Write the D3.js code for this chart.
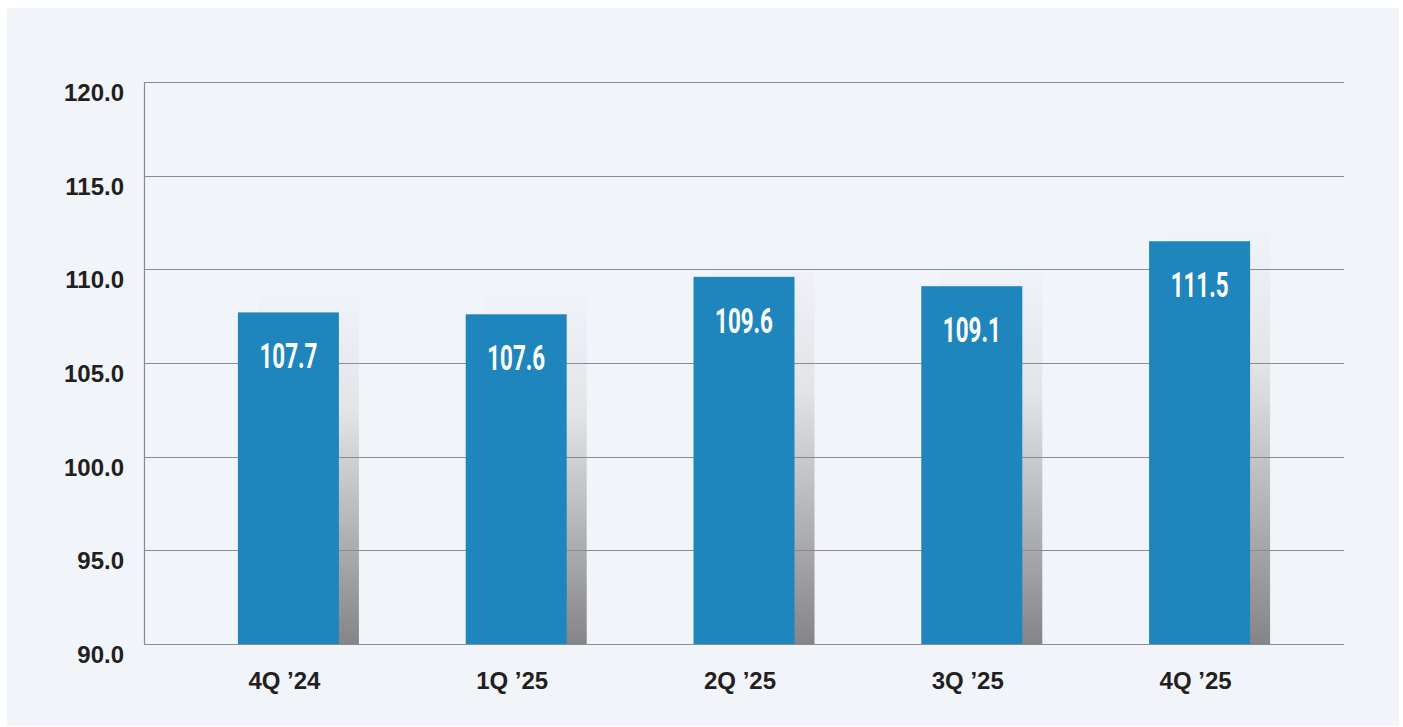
<!DOCTYPE html>
<html>
<head>
<meta charset="utf-8">
<script src="https://cdn.jsdelivr.net/npm/d3@7"></script>
<style>
  html, body { margin: 0; padding: 0; background: #ffffff; }
  svg { display: block; }
</style>
</head>
<body>
<svg id="chart" width="1403" height="727"></svg>
<script>
// Quarterly index values
const quarters = ["4Q \u201924", "1Q \u201925", "2Q \u201925", "3Q \u201925", "4Q \u201925"];
const values = [107.7, 107.6, 109.6, 109.1, 111.5];
const yTicks = [90, 95, 100, 105, 110, 115, 120];

const W = 1403, H = 727;
const plot = { left: 144, right: 1344, top: 82, bottom: 644 };
const barWidth = 101, shadowWidth = 20, shadowRise = 27;

const svg = d3.select("#chart");

// panel background
svg.append("rect")
  .attr("x", 7).attr("y", 8)
  .attr("width", 1392).attr("height", 718)
  .attr("fill", "#f1f4f9");

const x = d3.scalePoint()
  .domain(quarters)
  .range([plot.left, plot.right])
  .padding(0.634);

const y = d3.scaleLinear()
  .domain([90, 120])
  .range([plot.bottom, plot.top]);

// shadow gradient
const defs = svg.append("defs");
const grad = defs.append("linearGradient")
  .attr("id", "shade")
  .attr("x1", 0).attr("y1", 0).attr("x2", 0).attr("y2", 1);
grad.append("stop").attr("offset", "0%").attr("stop-color", "#f1f4f9");
grad.append("stop").attr("offset", "35%").attr("stop-color", "#e2e4e8");
grad.append("stop").attr("offset", "100%").attr("stop-color", "#858589");

// drop shadows behind bars
svg.append("g")
  .selectAll("rect")
  .data(values)
  .join("rect")
  .attr("x", (d, i) => x(quarters[i]) - barWidth / 2 + shadowWidth)
  .attr("y", d => y(d) - shadowRise)
  .attr("width", barWidth)
  .attr("height", d => plot.bottom - y(d) + shadowRise)
  .attr("fill", "url(#shade)");

// horizontal gridlines
svg.append("g")
  .selectAll("line")
  .data(yTicks)
  .join("line")
  .attr("x1", plot.left).attr("x2", plot.right)
  .attr("y1", d => Math.round(y(d)) + 0.5)
  .attr("y2", d => Math.round(y(d)) + 0.5)
  .attr("stroke", "#8a8b8e")
  .attr("stroke-width", 1.2);

// vertical axis line
svg.append("line")
  .attr("x1", plot.left + 0.5).attr("x2", plot.left + 0.5)
  .attr("y1", plot.top).attr("y2", plot.bottom)
  .attr("stroke", "#8a8b8e")
  .attr("stroke-width", 1.2);

// bars
svg.append("g")
  .selectAll("rect")
  .data(values)
  .join("rect")
  .attr("x", (d, i) => x(quarters[i]) - barWidth / 2)
  .attr("y", d => y(d))
  .attr("width", barWidth)
  .attr("height", d => plot.bottom - y(d))
  .attr("fill", "#1f86bd");

// value labels inside bars (condensed)
svg.append("g")
  .selectAll("text")
  .data(values)
  .join("text")
  .attr("transform", (d, i) => `translate(${x(quarters[i])},${y(d) + 56}) scale(0.64,1)`)
  .attr("text-anchor", "middle")
  .attr("font-family", "Roboto, 'Liberation Sans', sans-serif")
  .attr("font-weight", 700)
  .attr("font-size", 35)
  .attr("fill", "#ffffff")
  .text(d => d.toFixed(1));

// y-axis labels
svg.append("g")
  .selectAll("text")
  .data(yTicks)
  .join("text")
  .attr("x", plot.left - 20)
  .attr("y", d => y(d) + 19)
  .attr("text-anchor", "end")
  .attr("font-family", "'Liberation Sans', Arial, sans-serif")
  .attr("font-weight", 700)
  .attr("font-size", 24)
  .attr("fill", "#231f20")
  .text(d => d.toFixed(1));

// x-axis labels
svg.append("g")
  .selectAll("text")
  .data(quarters)
  .join("text")
  .attr("x", d => x(d) - 4)
  .attr("y", 689)
  .attr("text-anchor", "middle")
  .attr("font-family", "'Liberation Sans', Arial, sans-serif")
  .attr("font-weight", 700)
  .attr("font-size", 24)
  .attr("fill", "#231f20")
  .text(d => d);
</script>
</body>
</html>
